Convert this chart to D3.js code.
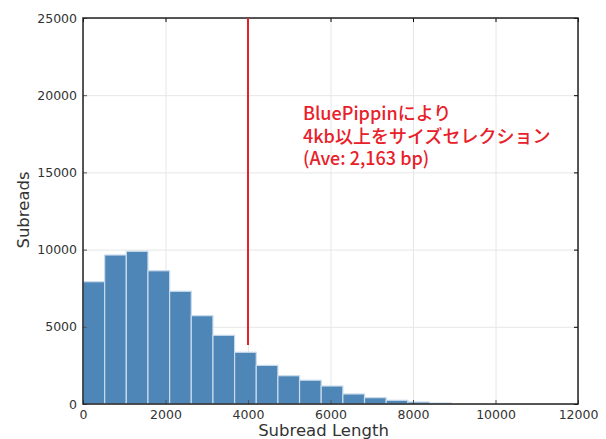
<!DOCTYPE html>
<html lang="ja">
<head>
    <meta charset="UTF-8">
    <title>Subread Length</title>
    <script src="https://d3js.org/d3.v7.min.js"></script>
    <style>
        body { margin: 0; background: #fff; }
        .grid line { stroke: #e6e6e6; stroke-width: 1; }
        .grid .domain { display: none; }
    </style>
</head>
<body>
<script type="text/javascript">
// histogram bins (start of each bin, width 525)
var binWidth = 525;
var binStarts = [0, 525, 1050, 1575, 2100, 2625, 3150, 3675, 4200, 4725, 5250, 5775, 6300, 6825, 7350, 7875, 8400];
var counts = [7920, 9650, 9890, 8630, 7300, 5720, 4450, 3350, 2500, 1830, 1540, 1165, 650, 410, 240, 130, 65];
var xTicks = [0, 2000, 4000, 6000, 8000, 10000, 12000];
var yTicks = [0, 5000, 10000, 15000, 20000, 25000];
var cutoff = 4000, cutoffTop = 3820;
var noteLines = ["BluePippinにより", "4kb以上をサイズセレクション", "(Ave: 2,163 bp)"];

var W = 606, H = 439;
var margin = { top: 18, right: 28, bottom: 35, left: 83 };
var width = W - margin.left - margin.right, height = H - margin.top - margin.bottom;

var svg = d3.select("body").append("svg")
    .attr("width", W).attr("height", H);
var g = svg.append("g")
    .attr("transform", "translate(" + margin.left + "," + margin.top + ")");

var xScale = d3.scaleLinear().domain([0, 12000]).range([0, width]);
var yScale = d3.scaleLinear().domain([0, 25000]).range([height, 0]);

// grid
g.append("g").attr("class", "grid")
    .attr("transform", "translate(0," + height + ")")
    .call(d3.axisBottom(xScale).tickValues(xTicks).tickSize(-height).tickFormat(""));
g.append("g").attr("class", "grid")
    .call(d3.axisLeft(yScale).tickValues(yTicks).tickSize(-width).tickFormat(""));

// bars
g.selectAll("rect.bar").data(counts)
    .enter()
    .append("rect")
    .attr("class", "bar")
    .attr("x", function(d, i) { return xScale(binStarts[i]); })
    .attr("y", function(d) { return yScale(d); })
    .attr("width", function(d, i) { return xScale(binStarts[i] + binWidth) - xScale(binStarts[i]); })
    .attr("height", function(d) { return height - yScale(d); })
    .style("fill", "#4f86b8")
    .style("stroke", "#c9dbeb")
    .style("stroke-width", 1.2);

// axes with inward ticks
var fmt = d3.format("d");
var xAxis = d3.axisBottom(xScale).tickValues(xTicks).tickFormat(fmt).tickSizeInner(-4).tickSizeOuter(0).tickPadding(6);
var yAxis = d3.axisLeft(yScale).tickValues(yTicks).tickFormat(fmt).tickSizeInner(-4).tickSizeOuter(0).tickPadding(6);
g.append("g").attr("class", "x-axis").attr("transform", "translate(0," + height + ")").call(xAxis);
g.append("g").attr("class", "y-axis").call(yAxis);
g.append("g").attr("transform", "translate(" + width + ",0)")
    .call(d3.axisRight(yScale).tickValues(yTicks).tickSizeInner(-4).tickSizeOuter(0).tickFormat(""));
g.append("g")
    .call(d3.axisTop(xScale).tickValues(xTicks).tickSizeInner(-4).tickSizeOuter(0).tickFormat(""));
g.selectAll(".domain").style("display", "none");
g.selectAll(".x-axis .tick line, .y-axis .tick line").style("stroke", "#555");
g.selectAll(".x-axis text, .y-axis text")
    .style("font-family", "'DejaVu Sans', sans-serif")
    .style("font-size", "12.5px")
    .style("fill", "#333");

g.append("rect")
    .attr("width", width).attr("height", height)
    .style("fill", "none").style("stroke", "#222").style("stroke-width", 1.5);

// cutoff line
g.append("line")
    .attr("x1", xScale(cutoff)).attr("x2", xScale(cutoff))
    .attr("y1", yScale(25000)).attr("y2", yScale(cutoffTop))
    .style("stroke", "#e8202a").style("stroke-width", 2);

// note
g.selectAll("text.note").data(noteLines).enter().append("text")
    .attr("class", "note")
    .attr("x", 220)
    .attr("y", function(d, i) { return 102 + i * 22.5; })
    .style("font-family", "'Noto Sans CJK JP', sans-serif")
    .style("font-size", "18px")
    .style("font-weight", 500)
    .style("fill", "#e8202a")
    .text(function(d) { return d; });

// axis labels
svg.append("text")
    .attr("x", margin.left + width / 2 - 7).attr("y", 436)
    .attr("text-anchor", "middle")
    .style("font-family", "'DejaVu Sans', sans-serif")
    .style("font-size", "16.5px").style("fill", "#333")
    .text("Subread Length");
svg.append("text")
    .attr("transform", "translate(29,210) rotate(-90)")
    .attr("text-anchor", "middle")
    .style("font-family", "'DejaVu Sans', sans-serif")
    .style("font-size", "16.5px").style("fill", "#333")
    .text("Subreads");
</script>
</body>
</html>
